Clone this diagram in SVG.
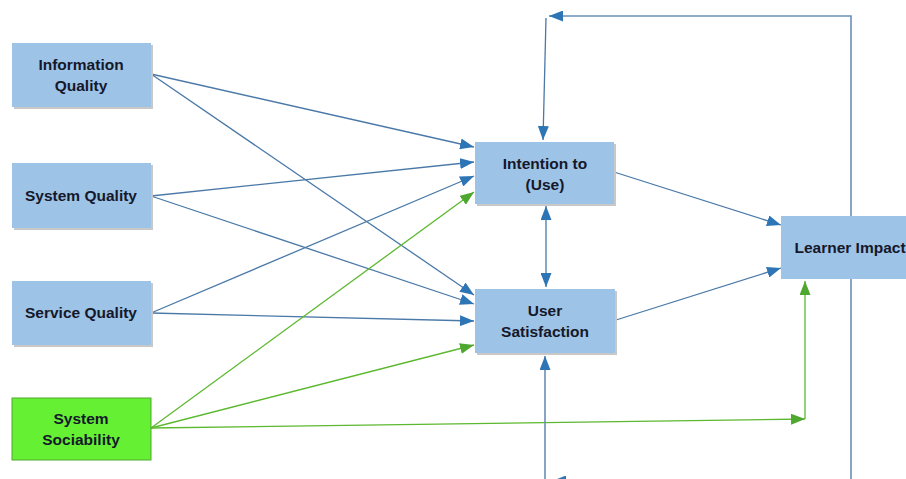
<svg xmlns="http://www.w3.org/2000/svg" width="906" height="479" viewBox="0 0 906 479">
<defs>
<marker id="ab" viewBox="0 0 14 11" refX="14" refY="5.5" markerWidth="14" markerHeight="11" markerUnits="userSpaceOnUse" orient="auto"><path d="M0,0 L14,5.5 L0,11 Z" fill="#2E75B6"/></marker>
<marker id="abs" viewBox="0 0 14 11" refX="0" refY="5.5" markerWidth="14" markerHeight="11" markerUnits="userSpaceOnUse" orient="auto"><path d="M14,0 L0,5.5 L14,11 Z" fill="#2E75B6"/></marker>
<marker id="ag" viewBox="0 0 14 11" refX="14" refY="5.5" markerWidth="14" markerHeight="11" markerUnits="userSpaceOnUse" orient="auto"><path d="M0,0 L14,5.5 L0,11 Z" fill="#4EA72E"/></marker>
</defs>
<style>
.box{fill:#9DC3E6;}
.gbox{fill:#66F033;stroke:#4EA72E;stroke-width:1;}
.sh{fill:#C8C8C8;}
.t{font-family:"Liberation Sans",Arial,sans-serif;font-weight:bold;font-size:15.5px;fill:#15182A;text-anchor:middle;}
.b{fill:none;stroke:#4A79A8;stroke-width:1.3;}
.g{fill:none;stroke:#5CB82E;stroke-width:1.3;}
.fb{fill:none;stroke:#6B8FB5;stroke-width:1.6;}
</style>
<rect width="906" height="479" fill="#FFFFFF"/>
<g id="connectors">
<line class="b" x1="151" y1="74" x2="474" y2="147" marker-end="url(#ab)"/>
<line class="b" x1="151" y1="74" x2="474" y2="295" marker-end="url(#ab)"/>
<line class="b" x1="151" y1="196" x2="474" y2="162" marker-end="url(#ab)"/>
<line class="b" x1="151" y1="196" x2="474" y2="304" marker-end="url(#ab)"/>
<line class="b" x1="151" y1="313" x2="474" y2="176" marker-end="url(#ab)"/>
<line class="b" x1="151" y1="313" x2="474" y2="321" marker-end="url(#ab)"/>
<line class="g" x1="151" y1="428" x2="474" y2="192" marker-end="url(#ag)"/>
<line class="g" x1="151" y1="428" x2="474" y2="345" marker-end="url(#ag)"/>
<polyline class="g" points="151,428 805,419" marker-end="url(#ag)"/>
<line class="g" x1="805" y1="419" x2="805" y2="281" marker-end="url(#ag)"/>
<line class="b" x1="614" y1="172" x2="781" y2="225" marker-end="url(#ab)"/>
<line class="b" x1="616" y1="320" x2="781" y2="268" marker-end="url(#ab)"/>
<line class="b" x1="546" y1="206" x2="546" y2="287" marker-start="url(#abs)" marker-end="url(#ab)"/>
<polyline class="fb" points="851,216 851,16 549,16" marker-end="url(#ab)"/>
<line class="b" x1="546" y1="18" x2="543" y2="140" marker-end="url(#ab)"/>
<line class="fb" x1="851" y1="279" x2="851" y2="479"/>
<line class="fb" x1="851" y1="481" x2="552" y2="481" marker-end="url(#ab)"/>
<line class="fb" x1="545" y1="479" x2="545" y2="356" marker-end="url(#ab)"/>
</g>
<g id="information-quality">
<rect class="sh" x="14" y="45" width="139" height="64"/>
<rect class="box" x="12" y="43" width="139" height="64"/>
<text class="t" x="81" y="70">Information</text>
<text class="t" x="81" y="91">Quality</text>
</g>
<g id="system-quality">
<rect class="sh" x="14" y="165" width="139" height="65"/>
<rect class="box" x="12" y="163" width="139" height="65"/>
<text class="t" x="81" y="201">System Quality</text>
</g>
<g id="service-quality">
<rect class="sh" x="14" y="283" width="139" height="64"/>
<rect class="box" x="12" y="281" width="139" height="64"/>
<text class="t" x="81" y="318">Service Quality</text>
</g>
<g id="system-sociability">
<rect class="gbox" x="12" y="398" width="139" height="62"/>
<text class="t" x="81" y="424">System</text>
<text class="t" x="81" y="445">Sociability</text>
</g>
<g id="intention-to-use">
<rect class="sh" x="477" y="144" width="139" height="62"/>
<rect class="box" x="475" y="142" width="139" height="62"/>
<text class="t" x="545" y="169">Intention to</text>
<text class="t" x="545" y="190">(Use)</text>
</g>
<g id="user-satisfaction">
<rect class="sh" x="477" y="291" width="140" height="64"/>
<rect class="box" x="475" y="289" width="140" height="64"/>
<text class="t" x="545" y="316">User</text>
<text class="t" x="545" y="337">Satisfaction</text>
</g>
<g id="learner-impact">
<rect class="box" x="781" y="216" width="130" height="63"/>
<text class="t" x="850" y="253">Learner Impact</text>
</g>
</svg>
